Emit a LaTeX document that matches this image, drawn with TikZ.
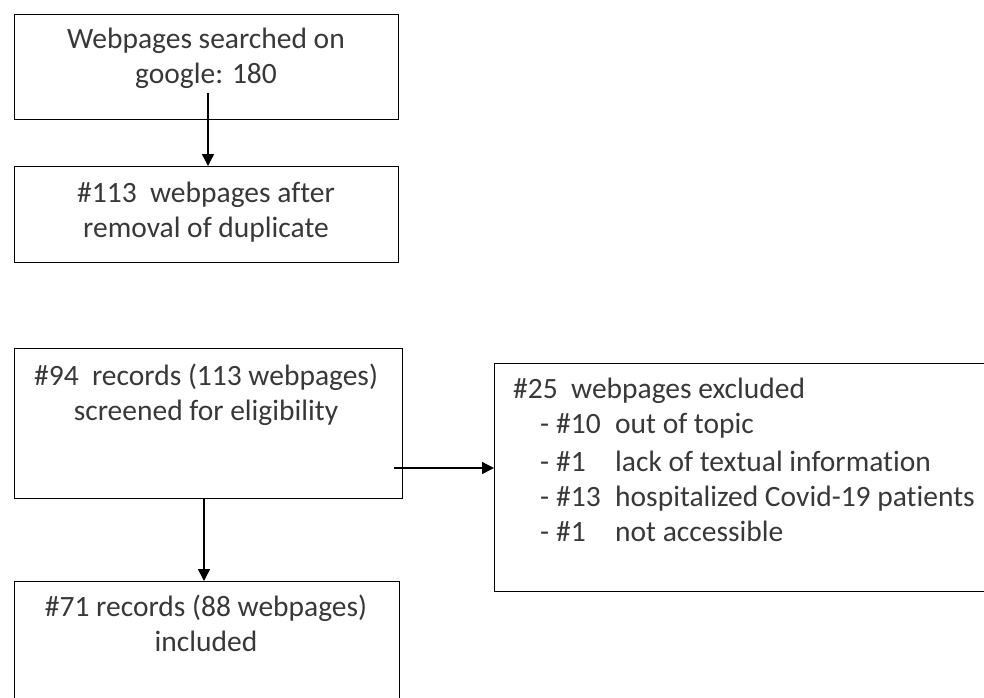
\documentclass[tikz,border=0pt]{standalone}
\usepackage{fontspec}
\usepackage{xcolor}
\usepackage{tikz}
\usetikzlibrary{arrows.meta}
\setmainfont{Carlito}[Ligatures={NoCommon}]
\definecolor{txtcol}{gray}{0.22}

\begin{document}
\begin{tikzpicture}[x=1pt, y=-1pt,
  box/.style={draw=black, line width=1.4pt, anchor=north west, inner sep=0pt},
  txt/.style={text=txtcol, align=center, inner sep=0pt, anchor=north,
    font=\fontsize{29.5}{34.5}\selectfont},
  flow/.style={-{Triangle[length=12pt,width=12pt]}, line width=1.4pt}]
  \useasboundingbox (0,0) rectangle (984,697);
  % boxes of the flow
  \node[box, minimum width=384pt, minimum height=105pt] (search) at (14,14) {};
  \node[box, minimum width=384pt, minimum height=96pt] (dupl) at (14,166) {};
  \node[box, minimum width=388pt, minimum height=150pt] (screen) at (14,348) {};
  \node[box, minimum width=520pt, minimum height=228pt] (excl) at (494,363) {};
  \node[box, minimum width=385pt, minimum height=140pt] (incl) at (14,581) {};
  % texts
  \node[txt] (searchtxt) at (206,28) {Webpages searched on\\ google: 180};
  \node[txt] (dupltxt) at (206,182) {\#113\ \ webpages after\\ removal of duplicate};
  \node[txt] (screentxt) at (206,364) {\#94\ \ records (113 webpages)\\ screened for eligibility};
  \node[txt] (incltxt) at (206,595) {\#71 records (88 webpages)\\ included};
  \node[txt, anchor=north west, align=left,
    font=\fontsize{29.5}{35}\selectfont] (excltxt) at (513,374) {%
    \begin{tabular}{@{}p{27pt}@{}p{16pt}@{}p{59pt}@{}l@{}}
      \multicolumn{4}{@{}l@{}}{\#25\ \ webpages excluded}\\
      & - & \#10 & out of topic\\[3pt]
      & - & \#1 & lack of textual information\\
      & - & \#13 & hospitalized Covid-19 patients\\
      & - & \#1 & not accessible
    \end{tabular}};
  % connectors
  \coordinate (s0) at (208,93);
  \coordinate (e0) at (394,468);
  \draw[flow] (s0) -- (s0 |- dupl.north);
  \draw[flow] (e0) -- (e0 -| excl.west);
  \draw[flow] (screen.south -| 204,0) -- (incl.north -| 204,0);
\end{tikzpicture}
\end{document}
